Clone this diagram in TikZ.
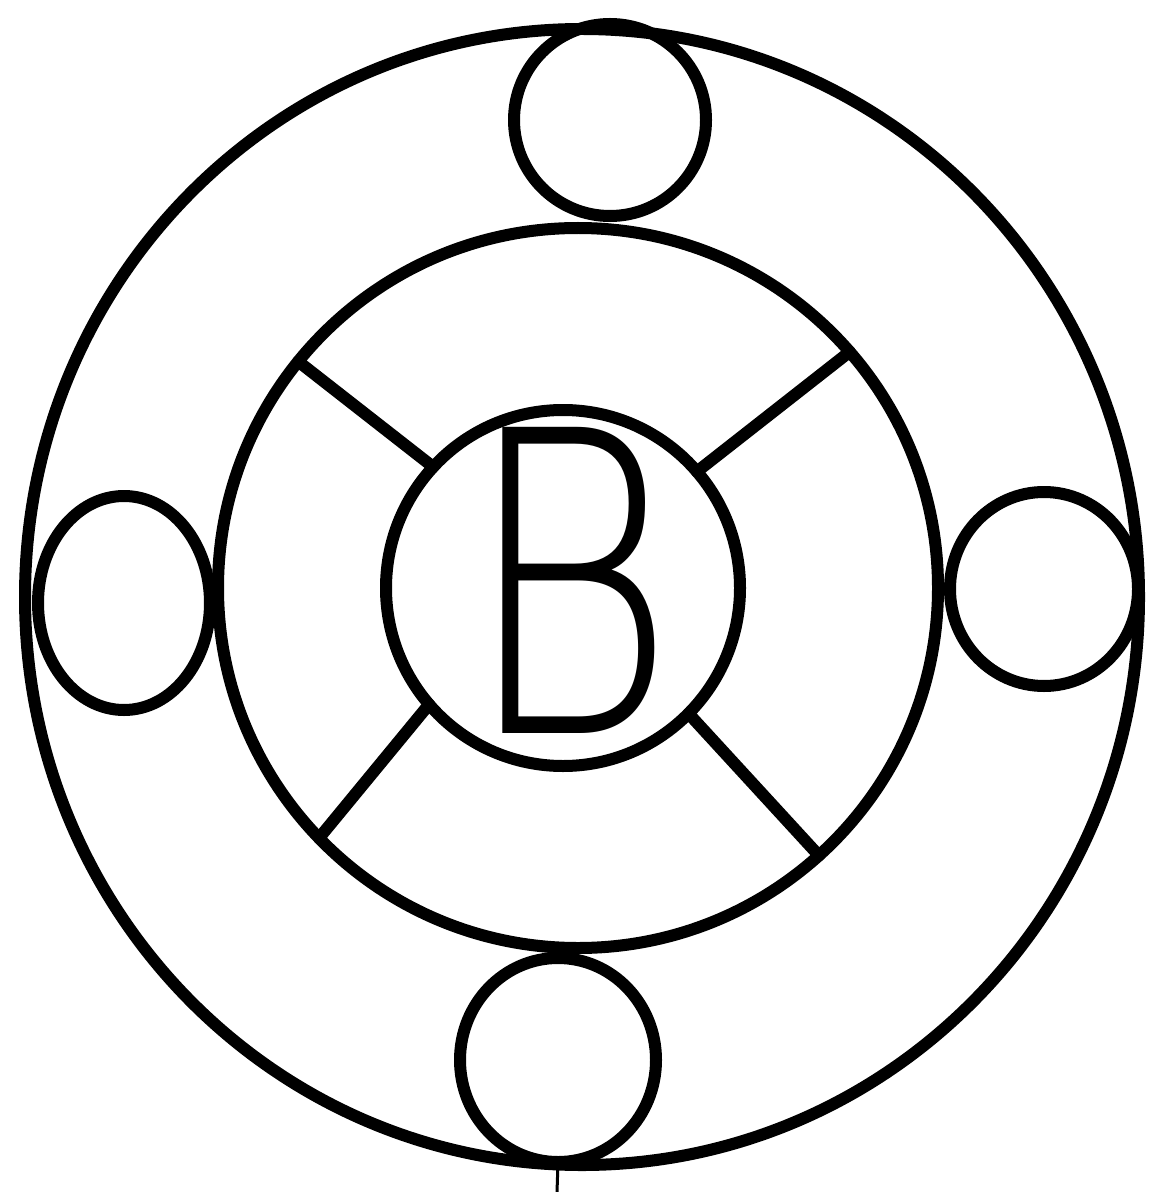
\documentclass[tikz,border=0pt]{standalone}
\usepackage{fontspec}
\newfontfamily\bfont{DejaVu Sans ExtraLight}
\usetikzlibrary{shapes.geometric}
\begin{document}
\begin{tikzpicture}[x=0.5pt,y=-0.5pt,
  ring/.style={draw=black, line width=6pt, ellipse, inner sep=0pt, outer sep=0pt},
  spoke/.style={draw=black, line width=6pt, line cap=round},
  letter/.style={font=\bfont\fontsize{210}{210}\selectfont, inner sep=0pt, anchor=base}]
\useasboundingbox (0,0) rectangle (1158,1192);
\fill[white] (0,0) rectangle (1158,1192);
% rings
\node[ring, minimum width=557pt, minimum height=568pt] (outer) at (582,597) {};
\node[ring, minimum width=360pt, minimum height=360pt] (middle) at (578,588) {};
\node[ring, minimum width=177pt, minimum height=178pt] (inner) at (563,588) {};
% small circles
\node[ring, minimum width=96pt, minimum height=96pt] (top) at (610,120) {};
\node[ring, minimum width=86pt, minimum height=107pt] (left) at (124,603) {};
\node[ring, minimum width=94pt, minimum height=97pt] (right) at (1044,589) {};
\node[ring, minimum width=98pt, minimum height=102pt] (bottom) at (558,1060) {};
% spokes
\draw[spoke] (middle.141.6) -- (inner.137);
\draw[spoke] (middle.41) -- (inner.41.9);
\draw[spoke] (middle.224.3) -- (inner.221.5);
\draw[spoke] (middle.312.9) -- (inner.315.2);
% letter
\node[letter] (B) at (570,733) {\scalebox{0.78}[1]{B}};
% small tick below
\coordinate (tickend) at (557,1192);
\draw[line width=1.5pt] (bottom.south) -- (tickend);
\end{tikzpicture}
\end{document}
